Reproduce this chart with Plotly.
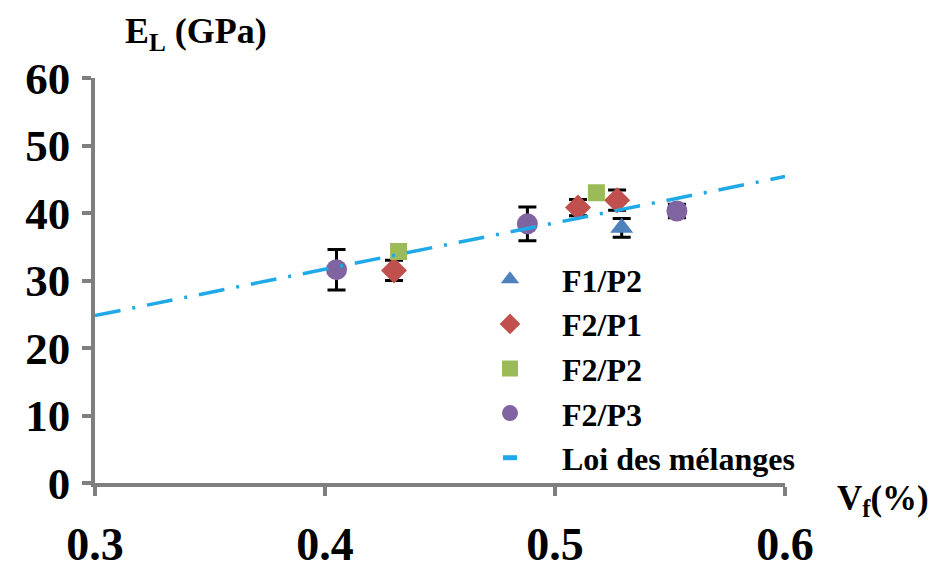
import plotly.graph_objects as go

# Data
f1p2_x = [0.529]
f1p2_y = [37.8]
f1p2_err = [1.4]

f2p1_x = [0.430, 0.510, 0.527]
f2p1_y = [31.5, 40.8, 41.9]
f2p1_err = [1.5, 1.2, 1.5]

f2p2_x = [0.432, 0.518]
f2p2_y = [34.3, 43.0]

f2p3_x = [0.405, 0.488, 0.553]
f2p3_y = [31.6, 38.4, 40.3]
f2p3_err = [3.0, 2.5, 1.0]

loi_x = [0.3, 0.6]
loi_y = [24.8, 45.4]

x_ticks = [0.3, 0.4, 0.5, 0.6]
x_labels = ["0.3", "0.4", "0.5", "0.6"]
y_ticks = [0, 10, 20, 30, 40, 50, 60]

SERIF = "Liberation Serif, Times New Roman, serif"
AXIS_GRAY = "#7f7f7f"
LINE_BLUE = "#1FA9E8"
PAD = "\u00a0\u00a0\u00a0\u00a0"


def err(arr):
    return dict(type="data", array=arr, visible=True, color="black",
                thickness=3, width=9)


fig = go.Figure()
fig.add_trace(go.Scatter(
    x=f1p2_x, y=f1p2_y, mode="markers", name=PAD + "F1/P2",
    marker=dict(symbol="triangle-up", size=20, color="#4F81BD"),
    error_y=err(f1p2_err)))
fig.add_trace(go.Scatter(
    x=f2p1_x, y=f2p1_y, mode="markers", name=PAD + "F2/P1",
    marker=dict(symbol="diamond", size=20, color="#C0504D"),
    error_y=err(f2p1_err)))
fig.add_trace(go.Scatter(
    x=f2p2_x, y=f2p2_y, mode="markers", name=PAD + "F2/P2",
    marker=dict(symbol="square", size=17, color="#9BBB59")))
fig.add_trace(go.Scatter(
    x=f2p3_x, y=f2p3_y, mode="markers", name=PAD + "F2/P3",
    marker=dict(symbol="circle", size=21, color="#8064A2"),
    error_y=err(f2p3_err)))
fig.add_trace(go.Scatter(
    x=loi_x, y=loi_y, mode="lines", name="Loi des mélanges", showlegend=False,
    line=dict(color=LINE_BLUE, width=3.5, dash="26px,12px,3px,12px")))
# legend entry for the mixture law (short dash symbol, as in the reference)
fig.add_trace(go.Scatter(
    x=[None], y=[None], mode="markers", name=PAD + "Loi des mélanges",
    marker=dict(symbol="line-ew", size=10, color=LINE_BLUE,
                line=dict(color=LINE_BLUE, width=5))))

plot_l, plot_r, plot_t, plot_b = 95, 785, 78, 483
plot_w = plot_r - plot_l
plot_h = plot_b - plot_t


def px(X):
    return (X - plot_l) / plot_w


def py(Y):
    return (plot_b - Y) / plot_h


fig.update_layout(
    width=934, height=568,
    margin=dict(l=87, r=934 - (plot_r - 8), t=plot_t - 8, b=568 - (plot_b - 8)),
    paper_bgcolor="white", plot_bgcolor="white",
    showlegend=True,
    legend=dict(x=px(490), y=py(252), xanchor="left", yanchor="top",
                font=dict(family=SERIF, size=32, color="black", weight="bold"),
                tracegroupgap=0, bgcolor="rgba(0,0,0,0)", itemwidth=30),
    xaxis=dict(range=[0.3, 0.6], tickvals=x_ticks, ticktext=x_labels,
               automargin=False,
               showgrid=False, zeroline=False, showline=True,
               linecolor=AXIS_GRAY, linewidth=3.5, ticks="outside",
               ticklen=9, tickwidth=3.5, tickcolor=AXIS_GRAY,
               ticklabelstandoff=9,
               tickfont=dict(family=SERIF, size=46, color="black", weight="bold")),
    yaxis=dict(range=[0, 60], tickvals=y_ticks,
               automargin=False,
               showgrid=False, zeroline=False, showline=True,
               linecolor=AXIS_GRAY, linewidth=3.5, ticks="outside",
               ticklen=9, tickwidth=3.5, tickcolor=AXIS_GRAY,
               ticklabelstandoff=3,
               tickfont=dict(family=SERIF, size=45, color="black", weight="bold")),
)

fig.add_annotation(text="E<sub>L</sub> (GPa)", xref="paper", yref="paper",
                   x=px(123), y=py(34),
                   xanchor="left", yanchor="middle", showarrow=False,
                   font=dict(family=SERIF, size=36, color="black", weight="bold"))
fig.add_annotation(text="V<sub>f</sub>(%)", xref="paper", yref="paper",
                   x=px(835), y=py(500),
                   xanchor="left", yanchor="middle", showarrow=False,
                   font=dict(family=SERIF, size=35, color="black", weight="bold"))

fig.write_html("out.html")
